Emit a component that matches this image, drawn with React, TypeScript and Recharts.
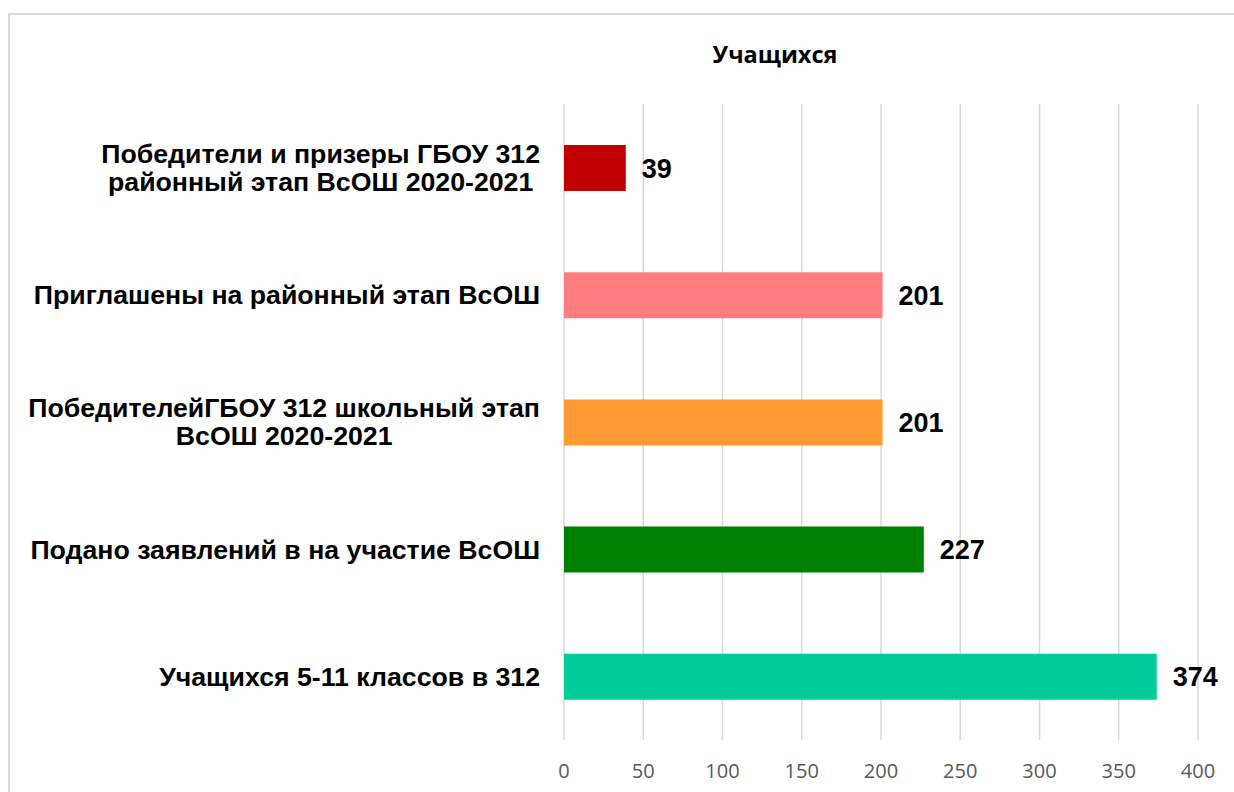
import { Bar, BarChart, CartesianGrid, Cell, LabelList, XAxis, YAxis } from "recharts";

const CATEGORIES = [
  "Победители и призеры ГБОУ 312\nрайонный этап ВсОШ 2020-2021",
  "Приглашены на районный этап ВсОШ",
  "ПобедителейГБОУ 312 школьный этап\nВсОШ 2020-2021",
  "Подано заявлений в на участие ВсОШ",
  "Учащихся 5-11 классов в 312",
];
const VALUES = [39, 201, 201, 227, 374];
const COLORS = ["#C00000", "#FF7C80", "#FF9933", "#008000", "#00CC99"];
const X_TICKS = [0, 50, 100, 150, 200, 250, 300, 350, 400];

const LABEL_SIZE = 26.7;
const LABEL_FONT = `bold ${LABEL_SIZE}px 'Liberation Sans'`;

let ctx: CanvasRenderingContext2D | null = null;
function measure(text: string) {
  if (!ctx) ctx = document.createElement("canvas").getContext("2d");
  if (!ctx) return text.length * 14;
  ctx.font = LABEL_FONT;
  return ctx.measureText(text).width;
}

function CategoryTick(props: any) {
  const { x, y, payload } = props;
  const lines = String(payload.value).split("\n");
  const maxW = Math.max(...lines.map(measure));
  const cx = x - maxW / 2;
  const lh = 28;
  const startY = y - ((lines.length - 1) * lh) / 2;
  return (
    <text
      textAnchor="middle"
      fontFamily="'Liberation Sans', Arial, sans-serif"
      fontWeight="bold"
      fontSize={LABEL_SIZE}
      fill="#000"
    >
      {lines.map((l, i) => (
        <tspan key={i} x={cx} y={startY + i * lh} dy="0.355em">
          {l}
        </tspan>
      ))}
    </text>
  );
}

export default function App() {
  const data = CATEGORIES.map((name, i) => ({ name, value: VALUES[i] }));

  return (
    <div
      style={{
        position: "absolute",
        left: 8,
        top: 13,
        width: 1224,
        height: 777,
        borderTop: "2px solid #d9d9d9",
        borderLeft: "2px solid #d9d9d9",
        background: "#fff",
      }}
    >
      <div
        style={{
          position: "absolute",
          left: 0,
          width: 1530,
          top: 23,
          textAlign: "center",
          fontFamily: "'Open Sans', sans-serif",
          fontWeight: "bold",
          fontSize: 23.5,
          color: "#000",
          lineHeight: "32px",
        }}
      >
        Учащихся
      </div>
      <BarChart
        width={1224}
        height={777}
        data={data}
        layout="vertical"
        margin={{ top: 89, right: 36, bottom: 22, left: 0 }}
      >
        <CartesianGrid horizontal={false} stroke="#d9d9d9" strokeWidth={1.5} />
        <XAxis
          type="number"
          domain={[0, 400]}
          ticks={X_TICKS}
          axisLine={false}
          tickLine={false}
          tickMargin={18}
          tick={{ fill: "#595959", fontSize: 20, fontFamily: "'Open Sans', sans-serif" }}
          interval={0}
        />
        <YAxis
          type="category"
          dataKey="name"
          width={554}
          axisLine={false}
          tickLine={false}
          tickMargin={18}
          tick={<CategoryTick />}
          interval={0}
        />
        <Bar dataKey="value" barSize={46} isAnimationActive={false}>
          {data.map((d, i) => (
            <Cell key={d.name} fill={COLORS[i]} />
          ))}
          <LabelList
            dataKey="value"
            position="right"
            offset={16}
            fill="#000"
            fontSize={27}
            fontWeight="bold"
            fontFamily="'Liberation Sans', Arial, sans-serif"
          />
        </Bar>
      </BarChart>
    </div>
  );
}
